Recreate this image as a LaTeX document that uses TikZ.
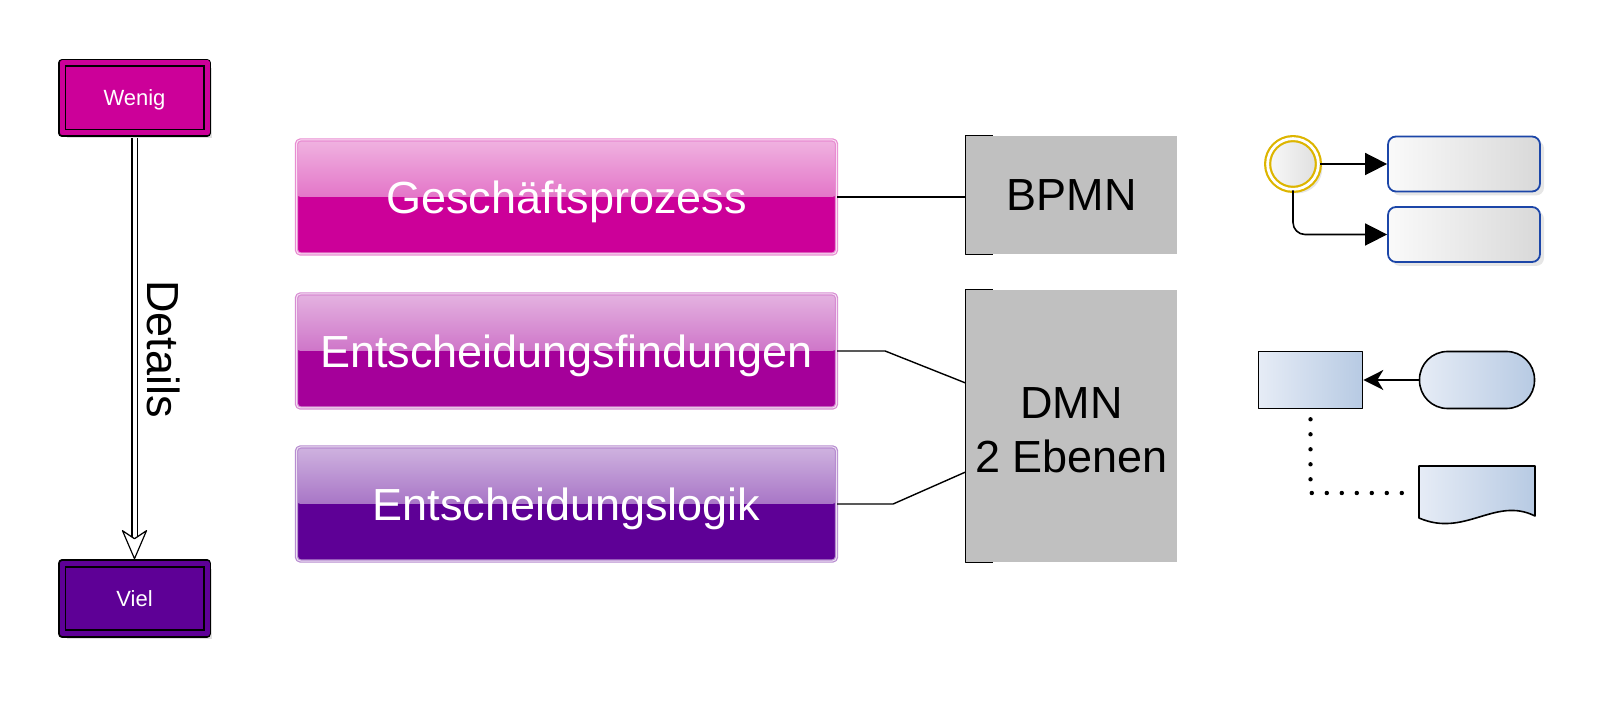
\documentclass[tikz,border=0pt]{standalone}
\usepackage{fontspec}
\setmainfont{Liberation Sans}
\usetikzlibrary{arrows.meta,shadows,positioning}
\definecolor{magentaA}{HTML}{CC0099}
\definecolor{magentaB}{HTML}{A5009A}
\definecolor{violetC}{HTML}{5E0096}
\definecolor{greyBox}{HTML}{C0C0C0}
\definecolor{goldRing}{HTML}{DDB500}
\definecolor{taskBlue}{HTML}{1C46A8}
\definecolor{dmnLight}{HTML}{E6ECF6}
\definecolor{dmnDark}{HTML}{B7CAE3}
\begin{document}
\begin{tikzpicture}[x=0.5pt, y=-0.5pt, line join=round, >=Stealth,
	bigfont/.style={font=\fontsize{22.5}{27}\selectfont},
	level/.style={draw=black, double=#1, double distance=2.5pt, line width=.8pt, fill=#1, text=white, inner sep=0pt,
		minimum width=72.5pt, minimum height=35pt, text depth=0pt, font=\fontsize{11}{13}\selectfont,
		drop shadow={shadow xshift=2.5pt, shadow yshift=-2.5pt, opacity=.25}},
	gloss/.style={rounded corners=2pt, draw=#1!45!white, line width=.6pt, double=#1!12!white, double distance=.5pt,
		fill=#1, text=white, bigfont, minimum width=270pt, minimum height=57pt, inner sep=0pt, text depth=0pt,
		path picture={\fill[top color=#1!30!white, bottom color=#1!78!white] (path picture bounding box.north west) rectangle (path picture bounding box.east);}},
	lang/.style={fill=greyBox, bigfont, minimum width=105.5pt, inner sep=0pt, align=center},
	bpmntask/.style={draw=taskBlue, line width=.9pt, rounded corners=4pt, left color=gray!4, right color=gray!30,
		minimum width=76pt, minimum height=27.5pt, drop shadow={shadow xshift=2pt, shadow yshift=-2pt, opacity=.2}},
	dmnshape/.style={draw=black, line width=.8pt, left color=dmnLight, right color=dmnDark}]
	\useasboundingbox (0,0) rectangle (1600,710);
	\node[level=magentaA] (wenig) at (134.5,98) {Wenig};
	\node[level=violetC] (viel) at (134.5,598.5) {Viel};
	\node[bigfont, rotate=-90] (details) at (164,349) {Details};
	\draw[double, double distance=2pt, line width=.6pt, shorten <=2pt, shorten >=8pt] (wenig) -- (viel);
	\filldraw[fill=white, line width=.6pt] ([yshift=2pt]viel.north) -- ++(-12,-28) -- ++(12,8) -- ++(12,-8) -- cycle;
	\node[gloss=magentaA] (process) at (566.5,197) {Geschäftsprozess};
	\node[gloss=magentaB] (finding) at (566.5,351) {Entscheidungsfindungen};
	\node[gloss=violetC] (logic) at (566.5,504) {Entscheidungslogik};
	\node[lang, minimum height=59pt] (bpmn) at (1071.5,195) {BPMN};
	\node[lang, minimum height=136pt] (dmn) at (1071.5,426) {\raisebox{-9.5pt}[0pt][0pt]{\begin{tabular}{@{}c@{}}DMN\\2 Ebenen\end{tabular}}};
	\foreach \n in {bpmn,dmn}
		\draw[line width=.7pt] ([xshift=13.5pt]\n.north west) -- (\n.north west) -- (\n.south west) -- ([xshift=13.5pt]\n.south west);
	\draw[line width=.7pt] (process.east) -- (process.east -| bpmn.west);
	\draw[line width=.7pt] (finding.east) -- ++(48,0) -- ([yshift=21.5pt]dmn.west);
	\draw[line width=.7pt] (logic.east) -- ++(56,0) -- ([yshift=-23pt]dmn.west);
	\node[circle, draw=goldRing, double=white, double distance=1.4pt, line width=1.1pt, minimum size=25.4pt,
		left color=gray!5, right color=gray!25, drop shadow={shadow xshift=2pt, shadow yshift=-2pt, opacity=.2}] (start) at (1293,164) {};
	\node[bpmntask] (taskA) at (1464,164) {};
	\node[bpmntask] (taskB) at (1464,234.5) {};
	\draw[line width=.8pt, -{Triangle[length=11pt,width=11pt]}] (start) -- (taskA);
	\draw[line width=.8pt, rounded corners=6pt, -{Triangle[length=11pt,width=11pt]}] (start) |- (taskB);
	\node[dmnshape, minimum width=52pt, minimum height=28.5pt] (decision) at (1310.5,380) {};
	\node[dmnshape, rounded corners=14pt, minimum width=57.5pt, minimum height=28.5pt] (input) at (1477,380) {};
	\draw[line width=.8pt, -{Stealth[length=10pt,width=10pt,inset=3pt]}] (input) -- (decision);
	\draw[dmnshape] (1419,466) -- (1535,466) -- (1535,516) .. controls (1495,496) and (1465,538) .. (1419,518) -- cycle;
	\coordinate (knowledge) at (1419,493);
	\draw[line width=2.2pt, dash pattern=on 0pt off 7.5pt, line cap=round, shorten <=5pt, shorten >=4pt] (decision) |- (knowledge);
\end{tikzpicture}
\end{document}
